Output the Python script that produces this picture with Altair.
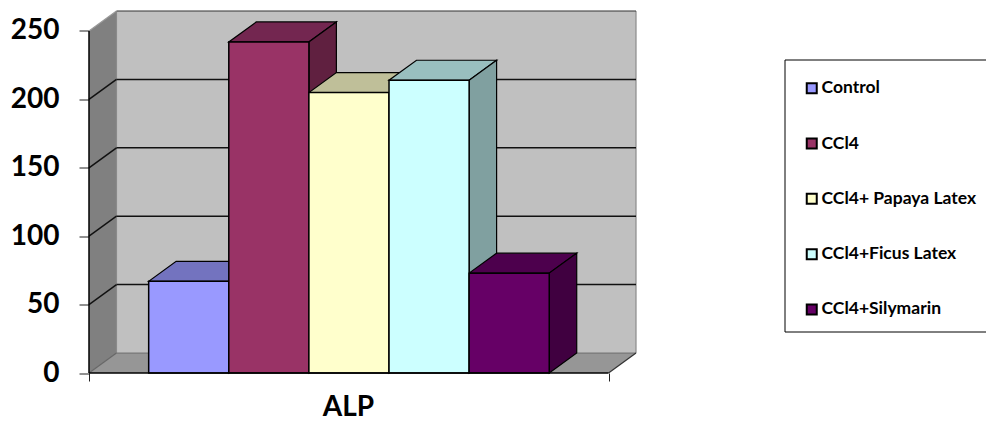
import altair as alt
import pandas as pd

categories = ["Control", "CCl4", "CCl4+ Papaya Latex", "CCl4+Ficus Latex", "CCl4+Silymarin"]
values = [67, 242, 205, 214, 73]
front_colors = ["#9999FF", "#993366", "#FFFFCC", "#CCFFFF", "#660066"]
top_colors = ["#7373BF", "#732650", "#BFBF99", "#99BFBF", "#4D004D"]
side_colors = ["#6060A0", "#602040", "#A0A080", "#80A0A0", "#400040"]
y_ticks = [0, 50, 100, 150, 200, 250]
group_label = "ALP"

FONT = "Lato"
DX, DY = 0.343, 14.6          # oblique depth, in x-units and value-units
X_L, X_R = -0.745, 5.74       # front floor edge
Y_TOP = 250

xs = alt.Scale(domain=[X_L, X_R + DX], nice=False, zero=False)
ys = alt.Scale(domain=[0, 265.7], nice=False, zero=False)
x_axis = alt.Axis(
    values=[X_L, X_R], labels=False, domain=False, grid=False, tickSize=8,
    tickColor="#222222", tickWidth=1, title=group_label, titleFont=FONT,
    titleFontSize=28, titleFontWeight="bold", titleColor="#000000",
    titleX=259, titleY=34, titleAlign="center", titleBaseline="middle")
y_axis = alt.Axis(
    values=y_ticks, domain=False, grid=False, tickSize=10, tickColor="#222222",
    tickWidth=1, labelFont=FONT, labelFontSize=28, labelFontWeight="bold",
    labelColor="#000000", labelPadding=20, title=None)
X = lambda f: alt.X(f"{f}:Q", scale=xs, axis=x_axis)
Y = lambda f: alt.Y(f"{f}:Q", scale=ys, axis=y_axis)


def para(name, x0, x1, lo0, hi0, lo1, hi1):
    return [dict(poly=name, x=x0, lo=lo0, hi=hi0), dict(poly=name, x=x1, lo=lo1, hi=hi1)]


# walls and floor
walls = []
for row in para("a_left", X_L, X_L + DX, 0, Y_TOP, DY, Y_TOP + DY):
    walls.append({**row, "fill": "#808080"})
for row in para("b_back", X_L + DX, X_R + DX, DY, Y_TOP + DY, DY, Y_TOP + DY):
    walls.append({**row, "fill": "#C0C0C0"})
for x, lo, hi in [(X_L, 0, 0), (X_L + DX, 0, DY), (X_R, 0, DY), (X_R + DX, DY, DY)]:
    walls.append(dict(poly="c_floor", x=x, lo=lo, hi=hi, fill="#969696"))
walls_df = pd.DataFrame(walls)

wall_layer = alt.Chart(walls_df).mark_area(opacity=1).encode(
    x=X("x"), y=Y("lo"), y2="hi:Q",
    fill=alt.Fill("fill:N", scale=None),
    detail="poly:N",
)

# back-wall outline
edge_df = pd.DataFrame([
    dict(x=X_L + DX, x2=X_L + DX, y=DY, y2=Y_TOP + DY, c="#8A8A8A"),
    dict(x=X_R + DX, x2=X_R + DX, y=DY, y2=Y_TOP + DY, c="#8A8A8A"),
    dict(x=X_L + DX, x2=X_R + DX, y=DY, y2=DY, c="#777777"),
    dict(x=X_L + DX, x2=X_R + DX, y=Y_TOP + DY, y2=Y_TOP + DY, c="#333333"),
    dict(x=X_L, x2=X_L + DX, y=Y_TOP, y2=Y_TOP + DY, c="#999999"),
    dict(x=X_L, x2=X_L + DX, y=0, y2=DY, c="#666666"),
    dict(x=X_R, x2=X_R + DX, y=0, y2=DY, c="#333333"),
])
edges = alt.Chart(edge_df).mark_rule(strokeWidth=1.2).encode(
    x=X("x"), x2="x2:Q", y=Y("y"), y2="y2:Q", color=alt.Color("c:N", scale=None))

# gridlines
grid_rows = []
for v in y_ticks[1:-1]:
    grid_rows.append(dict(x=X_L, x2=X_L + DX, y=v, y2=v + DY))
    grid_rows.append(dict(x=X_L + DX, x2=X_R + DX, y=v + DY, y2=v + DY))
grid = alt.Chart(pd.DataFrame(grid_rows)).mark_rule(color="#111111", strokeWidth=1.5).encode(
    x=X("x"), x2="x2:Q", y=Y("y"), y2="y2:Q")

# tops and sides of the bars, back to front
faces = []
for i, v in enumerate(values):
    x0, x1 = i, i + 1
    for x, lo, hi in [(x0, v, v), (x0 + DX, v, v + DY), (x1, v, v + DY), (x1 + DX, v + DY, v + DY)]:
        faces.append(dict(poly=f"{i}_top", x=x, lo=lo, hi=hi, fill=top_colors[i]))
    for x, lo, hi in [(x1, 0, v), (x1 + DX, DY, v + DY)]:
        faces.append(dict(poly=f"{i}_side", x=x, lo=lo, hi=hi, fill=side_colors[i]))
faces_df = pd.DataFrame(faces)
face_layer = alt.Chart(faces_df).mark_area(stroke="#000000", strokeWidth=1.2, opacity=1).encode(
    x=X("x"), y=Y("lo"), y2="hi:Q", fill=alt.Fill("fill:N", scale=None), detail="poly:N")

# fronts of the bars
bars_df = pd.DataFrame(dict(
    name=categories, v=values, x=list(range(5)), x2=[i + 1 for i in range(5)], y0=[0] * 5))
fronts = alt.Chart(bars_df).mark_rect(stroke="#000000", strokeWidth=1.5).encode(
    x=X("x"), x2="x2:Q", y=Y("y0"), y2="v:Q",
    fill=alt.Fill("name:N", sort=categories,
                  scale=alt.Scale(domain=categories, range=front_colors),
                  legend=alt.Legend(
                      title=None, orient="none", legendX=714, legendY=70,
                      symbolType="square", symbolSize=100, symbolStrokeColor="#000000",
                      symbolStrokeWidth=2, labelFont=FONT, labelFontSize=17.5,
                      labelFontWeight="bold", labelColor="#000000", rowPadding=36.3,
                      labelOffset=1, padding=0)),
)

# axis lines
axis_rows = pd.DataFrame([
    dict(x=X_L, x2=X_L, y=0, y2=Y_TOP),
    dict(x=X_L, x2=X_R, y=0, y2=0),
])
axis_lines = alt.Chart(axis_rows).mark_rule(color="#000000", strokeWidth=1.5).encode(
    x=X("x"), x2="x2:Q", y=Y("y"), y2="y2:Q")

# legend frame
frame = alt.Chart(pd.DataFrame(dict(a=[0]))).mark_rect(
    fillOpacity=0, stroke="#000000", strokeWidth=1, clip=False
).encode(x=alt.value(696), x2=alt.value(930), y=alt.value(50.5), y2=alt.value(322.5))

chart = alt.layer(wall_layer, edges, grid, face_layer, fronts, axis_lines, frame).properties(
    width=547, height=363.5,
    autosize=alt.AutoSizeParams(type="none"),
    padding={"left": 81, "top": 1.5, "right": 350, "bottom": 48},
    background="#FFFFFF",
).configure_view(stroke=None)

chart.save("out.html", embed_options={"renderer": "svg", "actions": False})
